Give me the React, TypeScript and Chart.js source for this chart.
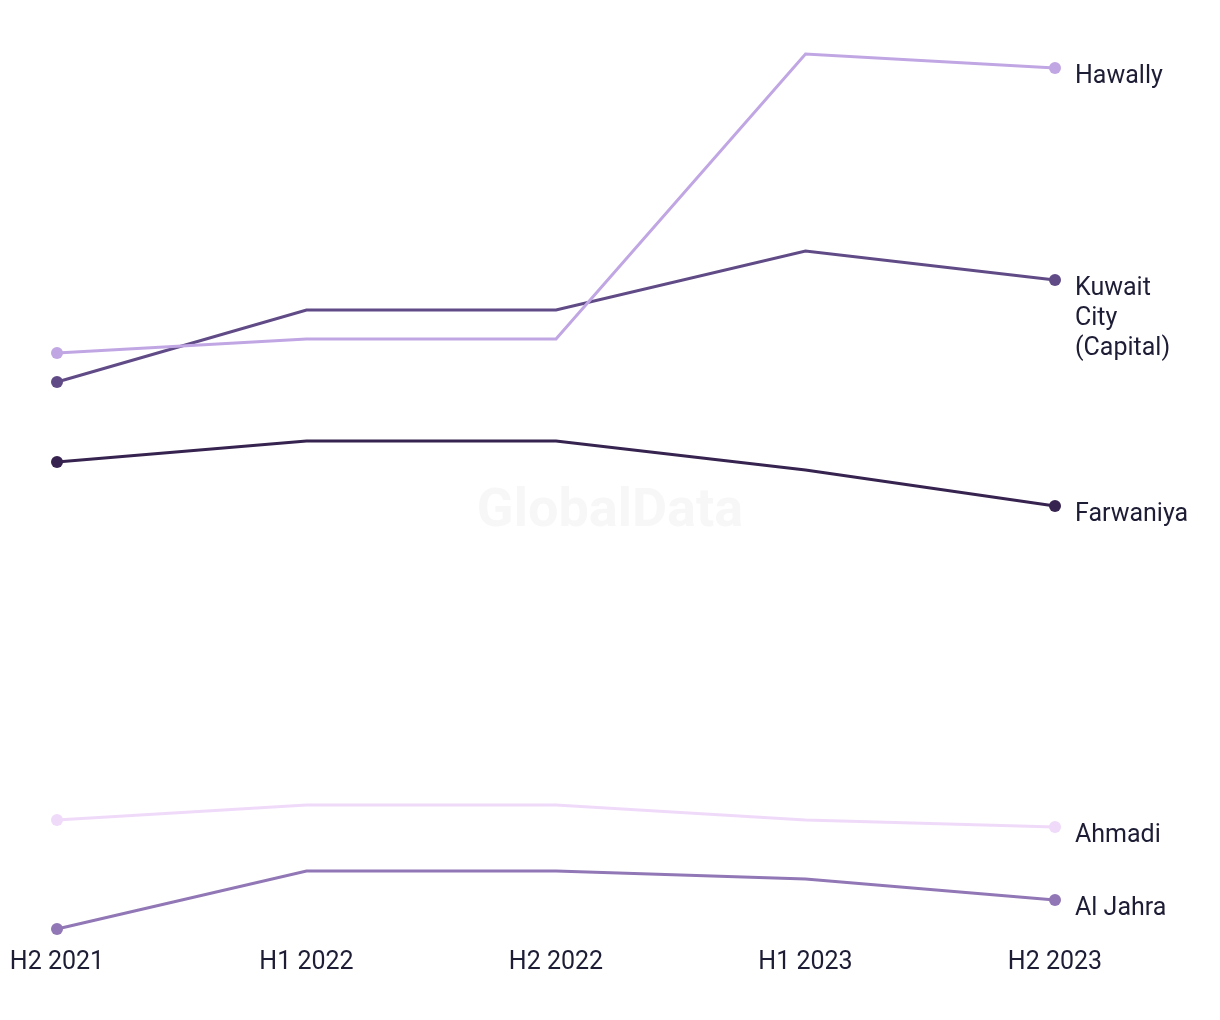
import React, { useEffect, useRef } from "react";
import { Chart, registerables } from "chart.js";

Chart.register(...registerables);

const periods = ["H2 2021", "H1 2022", "H2 2022", "H1 2023", "H2 2023"];
const seriesNames = ["Hawally", "Kuwait City (Capital)", "Farwaniya", "Ahmadi", "Al Jahra"];
const labelLines = [["Hawally"], ["Kuwait", "City", "(Capital)"], ["Farwaniya"], ["Ahmadi"], ["Al Jahra"]];
const hawally = [587, 601, 601, 886, 872];
const kuwaitCity = [558, 630, 630, 689, 660];
const farwaniya = [478, 499, 499, 470, 434];
const ahmadi = [120, 135, 135, 120, 113];
const alJahra = [11, 69, 69, 61, 40];
const seriesValues = [hawally, kuwaitCity, farwaniya, ahmadi, alJahra];
const seriesColors = ["#c1a6e4", "#604b87", "#36234f", "#f0dafa", "#9177b5"];

const FONT = "Roboto, 'Open Sans', sans-serif";
const TEXT = "#1e1d36";

export default function App() {
  const ref = useRef<HTMLCanvasElement | null>(null);
  useEffect(() => {
    document.body.style.margin = "0";
    const canvas = ref.current;
    if (!canvas) return;
    const endLabels = {
      id: "endLabels",
      afterDatasetsDraw(chart: any) {
        const ctx = chart.ctx;
        ctx.save();
        ctx.font = `25px ${FONT}`;
        ctx.fillStyle = TEXT;
        ctx.textAlign = "left";
        ctx.textBaseline = "middle";
        chart.data.datasets.forEach((ds: any, i: number) => {
          const meta = chart.getDatasetMeta(i);
          const pt = meta.data[meta.data.length - 1];
          const lines = labelLines[i];
          lines.forEach((ln: string, j: number) => {
            ctx.fillText(ln, pt.x + 20, pt.y + 8.5 + j * 30);
          });
        });
        ctx.restore();
      },
    };
    const watermark = {
      id: "watermark",
      beforeDatasetsDraw(chart: any) {
        const ctx = chart.ctx;
        ctx.save();
        ctx.font = `bold 54px ${FONT}`;
        ctx.fillStyle = "#f7f7f7";
        ctx.textAlign = "center";
        ctx.textBaseline = "middle";
        ctx.fillText("GlobalData", 610, 512);
        ctx.restore();
      },
    };
    const chart = new Chart(canvas, {
      type: "line",
      data: {
        labels: periods,
        datasets: seriesValues.map((vals, i) => ({
          label: seriesNames[i],
          data: vals,
          borderColor: seriesColors[i],
          backgroundColor: seriesColors[i],
          borderWidth: 3,
          tension: 0,
          pointRadius: (c: any) => (c.dataIndex === 0 || c.dataIndex === vals.length - 1 ? 6 : 0),
          pointBorderWidth: 0,
          pointHoverRadius: 0,
        })),
      },
      options: {
        animation: false,
        responsive: false,
        maintainAspectRatio: false,
        layout: { padding: { left: 57, right: 165, top: 20, bottom: 34 } },
        plugins: { legend: { display: false }, tooltip: { enabled: false } },
        scales: {
          x: {
            offset: false,
            grid: { display: false, drawTicks: false },
            border: { display: false },
            ticks: {
              color: TEXT,
              font: { family: FONT, size: 25 },
              padding: 8,
              maxRotation: 0,
              autoSkip: false,
            },
          },
          y: { display: false, min: 0, max: 920 },
        },
      },
      plugins: [watermark, endLabels],
    });
    return () => chart.destroy();
  }, []);
  return (
    <div style={{ width: 1220, height: 1020, background: "#fff" }}>
      <canvas ref={ref} width={1220} height={1020} style={{ display: "block" }} />
    </div>
  );
}
